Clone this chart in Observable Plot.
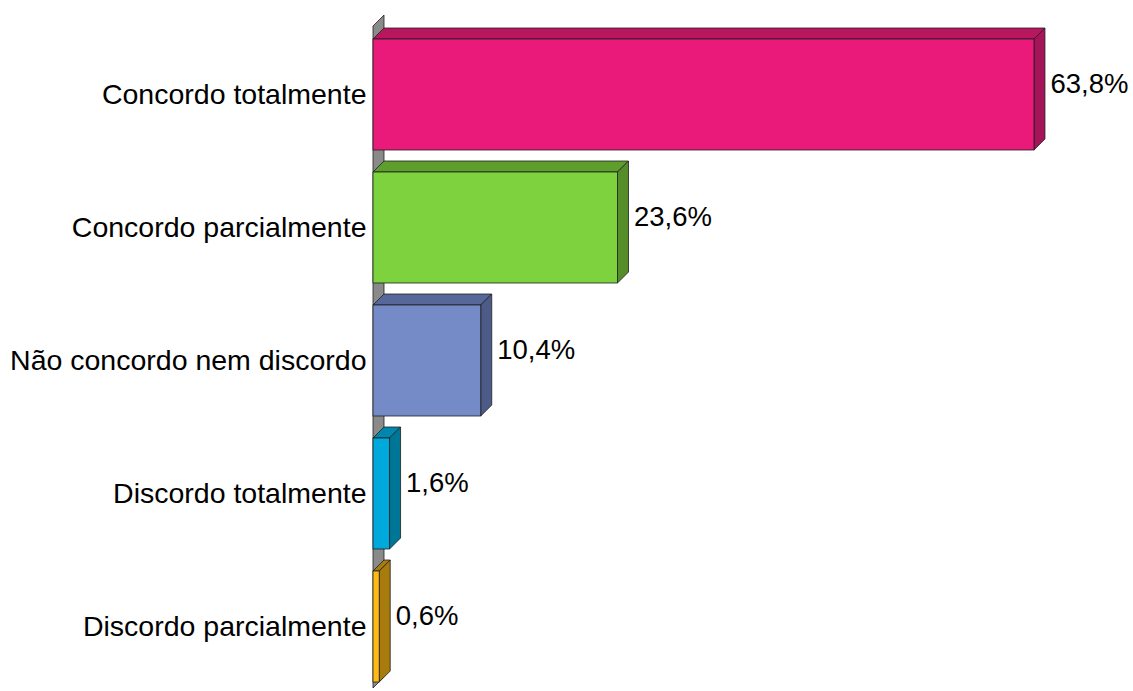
<!DOCTYPE html>
<html>
<head>
<meta charset="utf-8">
<script src="https://cdn.jsdelivr.net/npm/d3@7"></script>
<script src="https://cdn.jsdelivr.net/npm/@observablehq/plot@0.6"></script>
<style>
  html, body { margin: 0; padding: 0; background: #fff; }
  #chart svg { display: block; }
</style>
</head>
<body>
<div id="chart"></div>
<script>
// ---- data ----
const categories = ["Concordo totalmente", "Concordo parcialmente", "Não concordo nem discordo", "Discordo totalmente", "Discordo parcialmente"];
const values = [63.8, 23.6, 10.4, 1.6, 0.6];
const valueLabels = ["63,8%", "23,6%", "10,4%", "1,6%", "0,6%"];

// ---- palette ----
const frontColors = ["#EA1A7B", "#7ED23D", "#748BC8", "#00A9DC", "#FFBA13"];
const topColors   = ["#B8175F", "#5E9E2C", "#56689A", "#0087AF", "#A87C0C"];
const sideColors  = ["#A5135A", "#558D28", "#4C5B87", "#007697", "#A87C0C"];

const data = categories.map((c, i) => ({category: c, value: values[i], label: valueLabels[i], i}));

const DEPTH = 11;
const EDGE = "#1e1e1e";

function render3d(index, scales, vals, dimensions) {
  const X1 = vals.x1, X2 = vals.x2, Y = vals.y;
  const bw = scales.y.bandwidth();
  const x0 = scales.x(0);
  const g = d3.create("svg:g");
  // back wall
  const top = dimensions.marginTop - DEPTH;
  const bottom = dimensions.height - 3;
  g.append("polygon")
    .attr("points", [[x0, top], [x0 + DEPTH, top - DEPTH], [x0 + DEPTH, bottom - DEPTH], [x0, bottom]].join(" "))
    .attr("fill", "#8a8a8a").attr("stroke", EDGE).attr("stroke-width", 0.8);
  for (const i of index) {
    const xa = Math.min(X1[i], X2[i]), xb = Math.max(X1[i], X2[i]);
    const ya = Y[i], yb = Y[i] + bw;
    const k = data[i].i;
    g.append("polygon")
      .attr("points", [[xa, ya], [xb, ya], [xb + DEPTH, ya - DEPTH], [xa + DEPTH, ya - DEPTH]].join(" "))
      .attr("fill", topColors[k]).attr("stroke", EDGE).attr("stroke-width", 0.8).attr("stroke-linejoin", "round");
    g.append("polygon")
      .attr("points", [[xb, ya], [xb + DEPTH, ya - DEPTH], [xb + DEPTH, yb - DEPTH], [xb, yb]].join(" "))
      .attr("fill", sideColors[k]).attr("stroke", EDGE).attr("stroke-width", 0.8).attr("stroke-linejoin", "round");
    g.append("rect")
      .attr("x", xa).attr("y", ya).attr("width", xb - xa).attr("height", bw)
      .attr("fill", frontColors[k]).attr("stroke", EDGE).attr("stroke-width", 0.8);
  }
  return g.node();
}

const chart = Plot.plot({
  width: 1133,
  height: 691,
  marginLeft: 373,
  marginRight: 0,
  marginTop: 37,
  marginBottom: 6,
  style: {fontFamily: "'Liberation Sans', Arial, sans-serif", fontSize: "27px", color: "#000", background: "#fff"},
  x: {domain: [0, 70], range: [373, 373 + 725.2], axis: null},
  y: {domain: categories, paddingInner: 0.164, paddingOuter: 0, label: null},
  marks: [
    Plot.barX(data, {x: "value", y: "category", render: render3d}),
    Plot.axisY({tickSize: 0, tickPadding: 7, fontSize: 28.5, label: null, dy: 0}),
    Plot.text(data, {x: "value", y: "category", text: "label", textAnchor: "start", dx: 16, dy: -11, fontSize: 27.5, fill: "#000"})
  ]
});
document.getElementById("chart").appendChild(chart);
</script>
</body>
</html>
